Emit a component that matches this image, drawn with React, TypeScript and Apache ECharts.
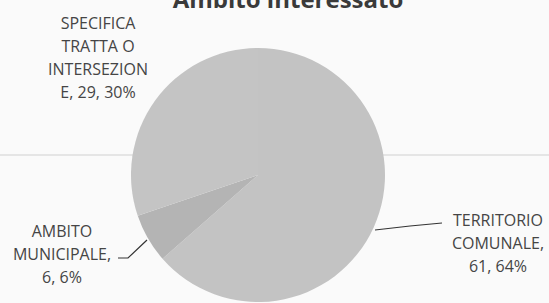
import React, { useEffect, useRef } from "react";
import * as echarts from "echarts";

const titleText = "Ambito interessato";
const categories = [
  "TERRITORIO COMUNALE",
  "AMBITO MUNICIPALE",
  "SPECIFICA TRATTA O INTERSEZIONE",
];
const values = [61, 6, 29];
// how each category name is wrapped in the label, and what follows it
const wrappedNames = ["TERRITORIO\nCOMUNALE", "AMBITO\nMUNICIPALE", "SPECIFICA\nTRATTA O\nINTERSEZION\nE"];
const nameSeparators = [",\n", ",\n", ", "];
const sliceColors = ["#c3c3c3", "#b4b4b4", "#c4c4c4"];

// label layout (position of the label block centre and the leader line)
const labelCenters = [
  [498, 243],
  [62, 254],
  [98, 57],
];
const leaderLines: (number[][] | null)[] = [
  [
    [375, 230],
    [410, 226],
    [442, 223],
  ],
  [
    [147, 240],
    [128, 258],
    [118, 258],
  ],
  null,
];

export default function App() {
  const ref = useRef<HTMLDivElement>(null);
  useEffect(() => {
    if (!ref.current) return;
    const chart = echarts.init(ref.current, null, { renderer: "svg" });
    const labelFont = "'Open Sans', sans-serif";
    chart.setOption({
      animation: false,
      backgroundColor: "#fafafa",
      graphic: [
        {
          type: "line",
          z: -1,
          shape: { x1: 0, y1: 155, x2: 549, y2: 155 },
          style: { stroke: "#dedede", lineWidth: 1.5 },
        },
        {
          type: "text",
          x: 288,
          y: -2,
          style: {
            text: titleText,
            fontFamily: "'Open Sans', sans-serif",
            fontWeight: "bold",
            fontSize: 24,
            fill: "#3a3a3a",
            align: "center",
            verticalAlign: "middle",
          },
        },
      ],
      series: [
        {
          type: "pie",
          center: [258, 175],
          radius: 127,
          startAngle: 90,
          clockwise: true,
          itemStyle: { borderWidth: 0 },
          label: {
            show: true,
            color: "#454545",
            fontFamily: labelFont,
            fontSize: 16,
            lineHeight: 23,
            align: "center",
            overflow: "none",
            formatter: (p: any) =>
              `${wrappedNames[p.dataIndex]}${nameSeparators[p.dataIndex]}${p.value}, ${Math.round(p.percent)}%`,
          },
          labelLine: {
            show: true,
            lineStyle: { color: "#333333", width: 1.2 },
          },
          labelLayout: (params: any) => {
            const i = params.dataIndex;
            const c = labelCenters[i];
            const res: any = {
              x: c[0],
              y: c[1],
              align: "center",
              verticalAlign: "middle",
            };
            if (leaderLines[i]) res.labelLinePoints = leaderLines[i];
            return res;
          },
          data: categories.map((name, i) => ({
            name,
            value: values[i],
            itemStyle: { color: sliceColors[i] },
            labelLine: { show: leaderLines[i] !== null },
          })),
        },
      ],
    });
    return () => chart.dispose();
  }, []);
  return (
    <div
      ref={ref}
      style={{ position: "fixed", left: 0, top: 0, width: 549, height: 303 }}
    />
  );
}
